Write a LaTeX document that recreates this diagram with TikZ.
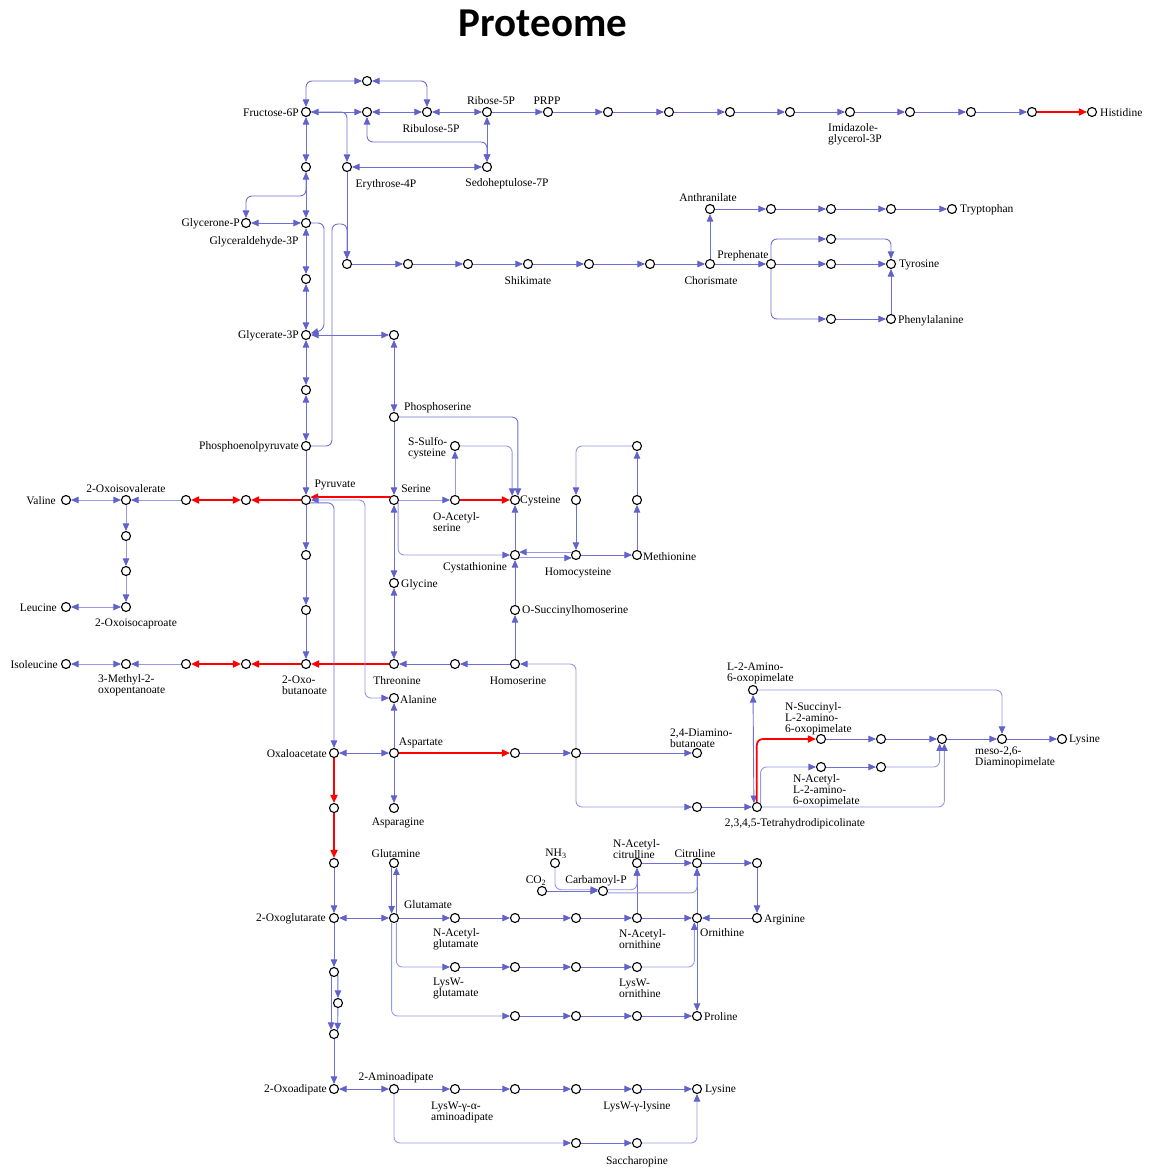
\documentclass[tikz,border=0pt]{standalone}
\usepackage{fontspec}
\setmainfont{Liberation Serif}
\newfontfamily\titlefont{Carlito}
\usetikzlibrary{arrows.meta}
\definecolor{linec}{RGB}{112,112,212}
\definecolor{lightc}{RGB}{152,152,228}
\definecolor{tipc}{RGB}{98,98,205}
\newcommand{\lf}{\fontsize{11.5}{11}\selectfont}
\begin{document}
\begin{tikzpicture}[x=1pt,y=-1pt,
 met/.style={circle,draw=black,fill=white,line width=1.1pt,minimum size=9pt,inner sep=0pt},
 lab/.style={font=\lf,inner sep=0pt,align=left,yshift=-1pt},
 ed/.style={draw=linec,line width=0.9pt,rounded corners=6pt,>={Triangle[length=7.5pt,width=6.5pt,color=tipc]}},
 edl/.style={draw=lightc,line width=0.9pt,rounded corners=6pt,>={Triangle[length=7.5pt,width=6.5pt,color=tipc]}},
 rd/.style={draw=red,line width=1.7pt,>={Triangle[length=8pt,width=7pt]}}]
\fill[white] (0,0) rectangle (1148,1169);
\useasboundingbox (0,0) rectangle (1148,1169);
\node[anchor=base] (title) at (543,37) {\titlefont\bfseries\fontsize{41}{41}\selectfont Proteome};
% ---------- metabolite nodes ----------
\foreach \n/\x/\y in {F6P/306/112,T1/367/81,X367/367/112,Ru5P/427/112,R5P/487/112,PRPP/548/112,
 H1/608/112,H2/669/112,H3/730/112,H4/790/112,IGP/850/112,H6/910/112,H7/971/112,H8/1032/112,His/1092/112,
 X306a/306/167,E4P/347/167,S7P/487/167,GlyP/246/223,GA3P/306/223,X306b/306/279,G3P/306/335,X394/394/335,
 X306c/306/390,PEP/306/446,
 S1/347/264,S2/408/264,S3/468/264,Shik/528/264,S5/589/264,S6/650/264,Chor/710/264,Preph/771/264,T2/831/264,Tyr/891/264,
 Anth/710/209,A2/771/209,A3/831/209,A4/891/209,Trp/952/209,U1/831/239,P1/831/319,Phe/891/319,
 PSer/394/417,SSC/455/446,Pyr/306/500,Ser/394/500,OAS/455/500,Cys/515/500,M1/576/500,M2/637/500,M3/637/446,
 Cysta/515/555,Hcy/576/555,Met/637/555,Gly/394/583,OSH/515/610,Hse/515/664,HH/455/664,Thr/394/664,
 OxoBut/306/664,Ala/394/698,Y1/306/555,Y2/306/610,
 V1/246/500,V2/186/500,KIV/126/500,Val/66/500,L1/126/536,L2/126/571,KIC/126/607,Leu/66/607,
 I1/246/664,I2/186/664,KMV/126/664,Ile/66/664,
 OAA/334/753,Asp/394/753,Asn/394/808,D1/515/753,D2/576/753,DAB/697/753,D3/697/807,THDP/757/807,
 L2A/753/690,NS/821/739,NS2/881/739,K3/942/739,DAP/1002/739,LysA/1062/739,NA/821/767,NA2/881/767,
 NxA/334/808,NxB/334/863,Gln/394/863,OG/334/918,Glu/394/918,NAG/455/918,G2/515/918,G3/576/918,NAO/637/918,
 Orn/697/918,Arg/757/918,NH3/555/863,NAC/637/863,Cit/697/863,C3/757/863,CO2/542/891,CP/603/891,
 LW1/455/967,LW2/515/967,LW3/576/967,LW4/637/967,PR1/515/1016,PR2/576/1016,PR3/637/1016,Pro/697/1016,
 O1/334/972,O2/338/1003,O3/334/1034,OA/334/1089,AA/394/1089,B1/455/1089,B2/515/1089,B3/576/1089,B4/637/1089,
 LysB/697/1089,SA1/576/1143,Sac/637/1143}
 \node[met] (\n) at (\x,\y) {};
% ---------- labels ----------
\node[lab,anchor=east] (tF6P) at (299,112) {Fructose-6P};
\node[lab] (tRu5P) at (431,128) {Ribulose-5P};
\node[lab] (tR5P) at (491,100) {Ribose-5P};
\node[lab] (tPRPP) at (547,100) {PRPP};
\node[lab,anchor=west] (tIGP) at (828,133) {Imidazole-\\glycerol-3P};
\node[lab,anchor=west] (tHis) at (1100,112) {Histidine};
\node[lab] (tE4P) at (386,184) {Erythrose-4P};
\node[lab] (tS7P) at (507,183) {Sedoheptulose-7P};
\node[lab,anchor=east] (tGlyP) at (240,223) {Glycerone-P};
\node[lab] (tGA3P) at (254,241) {Glyceraldehyde-3P};
\node[lab,anchor=east] (tG3P) at (299,335) {Glycerate-3P};
\node[lab,anchor=east] (tPEP) at (299,446) {Phosphoenolpyruvate};
\node[lab] (tShik) at (528,280) {Shikimate};
\node[lab] (tChor) at (711,280) {Chorismate};
\node[lab] (tPreph) at (743,255) {Prephenate};
\node[lab] (tAnth) at (708,197) {Anthranilate};
\node[lab,anchor=west] (tTrp) at (960,209) {Tryptophan};
\node[lab,anchor=west] (tTyr) at (899,264) {Tyrosine};
\node[lab,anchor=west] (tPhe) at (898,320) {Phenylalanine};
\node[lab,anchor=west] (tPSer) at (404,407) {Phosphoserine};
\node[lab,anchor=west] (tSSC) at (408,447) {S-Sulfo-\\cysteine};
\node[lab] (tPyr) at (335,484) {Pyruvate};
\node[lab] (tSer) at (416,488) {Serine};
\node[lab,anchor=west] (tOAS) at (433,521) {O-Acetyl-\\serine};
\node[lab,anchor=west] (tCys) at (520,500) {Cysteine};
\node[lab] (tCysta) at (475,567) {Cystathionine};
\node[lab] (tHcy) at (578,572) {Homocysteine};
\node[lab,anchor=west] (tMet) at (643,556) {Methionine};
\node[lab,anchor=west] (tGly) at (401,584) {Glycine};
\node[lab,anchor=west] (tOSH) at (522,610) {O-Succinylhomoserine};
\node[lab] (tKIV) at (126,488) {2-Oxoisovalerate};
\node[lab,anchor=east] (tVal) at (56,500) {Valine};
\node[lab,anchor=east] (tLeu) at (57,607) {Leucine};
\node[lab] (tKIC) at (136,623) {2-Oxoisocaproate};
\node[lab,anchor=east] (tIle) at (58,664) {Isoleucine};
\node[lab,anchor=west] (tKMV) at (98,684) {3-Methyl-2-\\oxopentanoate};
\node[lab,anchor=west] (tOxoBut) at (282,684) {2-Oxo-\\butanoate};
\node[lab] (tThr) at (397,680) {Threonine};
\node[lab] (tHse) at (518,680) {Homoserine};
\node[lab,anchor=west] (tAla) at (400,699) {Alanine};
\node[lab,anchor=east] (tOAA) at (327,753) {Oxaloacetate};
\node[lab] (tAsp) at (421,742) {Aspartate};
\node[lab] (tAsn) at (398,822) {Asparagine};
\node[lab,anchor=west] (tDAB) at (670,737) {2,4-Diamino-\\butanoate};
\node[lab,anchor=west] (tL2A) at (727,672) {L-2-Amino-\\6-oxopimelate};
\node[lab,anchor=west] (tNS) at (785,718) {N-Succinyl-\\L-2-amino-\\6-oxopimelate};
\node[lab,anchor=west] (tNA) at (793,790) {N-Acetyl-\\L-2-amino-\\6-oxopimelate};
\node[lab] (tTHDP) at (795,823) {2,3,4,5-Tetrahydrodipicolinate};
\node[lab,anchor=west] (tDAP) at (975,756) {meso-2,6-\\Diaminopimelate};
\node[lab,anchor=west] (tLysA) at (1069,739) {Lysine};
\node[lab] (tGln) at (396,853) {Glutamine};
\node[lab] (tNH3) at (556,853) {NH\textsubscript{3}};
\node[lab,anchor=west] (tNAC) at (613,848) {N-Acetyl-\\citrulline};
\node[lab] (tCit) at (695,853) {Citruline};
\node[lab] (tCO2) at (536,880) {CO\textsubscript{2}};
\node[lab] (tCP) at (596,880) {Carbamoyl-P};
\node[lab] (tGlu) at (428,904) {Glutamate};
\node[lab,anchor=east] (tOG) at (326,918) {2-Oxoglutarate};
\node[lab,anchor=west] (tNAG) at (433,938) {N-Acetyl-\\glutamate};
\node[lab,anchor=west] (tNAO) at (619,938) {N-Acetyl-\\ornithine};
\node[lab,anchor=west] (tOrn) at (700,932) {Ornithine};
\node[lab,anchor=west] (tArg) at (764,919) {Arginine};
\node[lab,anchor=west] (tLW1) at (433,987) {LysW-\\glutamate};
\node[lab,anchor=west] (tLW4) at (619,987) {LysW-\\ornithine};
\node[lab,anchor=west] (tPro) at (704,1016) {Proline};
\node[lab,anchor=east] (tOA) at (327,1089) {2-Oxoadipate};
\node[lab] (tAA) at (396,1077) {2-Aminoadipate};
\node[lab,anchor=west] (tB1) at (431,1111) {LysW-γ-α-\\aminoadipate};
\node[lab] (tB4) at (637,1106) {LysW-γ-lysine};
\node[lab,anchor=west] (tLysB) at (705,1089) {Lysine};
\node[lab] (tSac) at (637,1161) {Saccharopine};
% ---------- connectors ----------
% pentose phosphate / glycolysis
\draw[ed,<->] (F6P) |- (T1);
\draw[ed,<->] (T1) -| (Ru5P);
\draw[ed,<->] (F6P) -- (X367);
\draw[ed,<->] (X367) -- (Ru5P);
\draw[ed,<->] (Ru5P) -- (R5P);
\draw[ed,->] (R5P) -- (PRPP);
\foreach \a/\b in {PRPP/H1,H1/H2,H2/H3,H3/H4,H4/IGP,IGP/H6,H6/H7,H7/H8}
 \draw[ed,->] (\a) -- (\b);
\draw[rd,->] (H8) -- (His);
\draw[ed,->] (F6P) -| (E4P);
\draw[ed,->] (E4P) -- (S1);
\draw[ed,<->] (E4P) -- (S7P);
\draw[ed,<->] (X367) -- (367,142) -- (487,142) -- (S7P);
\draw[ed,<->] (R5P) -- (S7P);
\draw[ed,<->] (F6P) -- (X306a);
\draw[ed,<->] (X306a) -- (GA3P);
\draw[ed,->] (X306a) -- (306,196) -- (246,196) -- (GlyP);
\draw[ed,<->] (GlyP) -- (GA3P);
\draw[ed,<->] (GA3P) -- (X306b);
\draw[ed,<->] (X306b) -- (G3P);
\draw[ed,->] (GA3P) -- (324,223) -- (324,330) -- (G3P.20);
\draw[ed,<->] (G3P) -- (X394);
\draw[ed,<->] (X394) -- (PSer);
\draw[ed,<->] (G3P) -- (X306c);
\draw[ed,<->] (X306c) -- (PEP);
\draw[ed,->] (PEP) -- (Pyr);
\draw[ed,->] (PEP) -- (332,446) -- (332,224) -- (347,224) -- (S1);
% aromatic
\foreach \a/\b in {S1/S2,S2/S3,S3/Shik,Shik/S5,S5/S6,S6/Chor,Chor/Preph,Preph/T2,T2/Tyr,Chor/Anth,Anth/A2,A2/A3,A3/A4,A4/Trp,P1/Phe,Phe/Tyr}
 \draw[ed,->] (\a) -- (\b);
\draw[ed,->] (Preph) |- (U1);
\draw[ed,->] (U1) -| (Tyr);
\draw[ed,->] (Preph) |- (P1);
% serine / cysteine / methionine
\draw[ed,->] (PSer) -- (Ser);
\draw[ed,->] (PSer) -| (Cys.55);
\draw[edl,->] (SSC) -| (Cys.125);
\draw[edl,->] (Ser) -- (OAS);
\draw[edl,->] (OAS) -- (SSC);
\draw[rd,->] (OAS) -- (Cys);
\draw[rd,->] (Ser.145) -- (Pyr.35);
\draw[edl,->] (Ser.-35) |- (Cysta);
\draw[ed,<->] (Ser) -- (Gly);
\draw[ed,<->] (Gly) -- (Thr);
\draw[ed,->] (Cysta) -- (Cys);
\draw[ed,->] (OSH) -- (Cysta);
\draw[ed,->] (Hse) -- (OSH);
\draw[edl,->] (Hcy.145) -- (Cysta.35);
\draw[edl,->] (Cysta.-35) -- (Hcy.-145);
\draw[ed,->] (Hcy) -- (Met);
\draw[ed,->] (Met) -- (M2);
\draw[ed,->] (M2) -- (M3);
\draw[edl,->] (M3) -| (M1);
\draw[ed,->] (M1) -- (Hcy);
% branched chain
\draw[rd,->] (Pyr) -- (V1);
\draw[rd,<->] (V2) -- (V1);
\draw[edl,->] (V2) -- (KIV);
\draw[edl,<->] (KIV) -- (Val);
\draw[edl,->] (KIV) -- (L1);
\draw[edl,->] (L1) -- (L2);
\draw[edl,->] (L2) -- (KIC);
\draw[edl,<->] (KIC) -- (Leu);
\draw[ed,->] (Pyr) -- (Y1);
\draw[ed,->] (Y1) -- (Y2);
\draw[ed,->] (Y2) -- (OxoBut);
\draw[rd,->] (Thr) -- (OxoBut);
\draw[rd,->] (OxoBut) -- (I1);
\draw[rd,<->] (I2) -- (I1);
\draw[edl,->] (I2) -- (KMV);
\draw[edl,<->] (KMV) -- (Ile);
\draw[edl,<->] (Pyr) -- (365,500) -- (365,698) -- (Ala);
\draw[ed,->] (Pyr.-35) -| (OAA);
% aspartate family
\draw[ed,->] (Hse) -- (HH);
\draw[ed,->] (HH) -- (Thr);
\draw[edl,->] (D2) |- (Hse);
\draw[ed,<->] (OAA) -- (Asp);
\draw[ed,->] (Asp) -- (Ala);
\draw[ed,->] (Asp) -- (Asn);
\draw[rd,->] (Asp) -- (D1);
\draw[ed,->] (D1) -- (D2);
\draw[ed,->] (D2) -- (DAB);
\draw[edl,->] (D2) |- (D3);
\draw[ed,->] (D3) -- (THDP);
\draw[ed,<->] (L2A) -- (THDP.128);
\draw[rd,->,rounded corners=6pt] (THDP.92) |- (NS);
\draw[edl,->] (THDP.45) |- (NA);
\draw[edl,->] (THDP) -| (K3.-62);
\draw[edl,->] (NA2) -| (K3.-118);
\draw[ed,->] (NS) -- (NS2);
\draw[ed,->] (NS2) -- (K3);
\draw[ed,->] (NA) -- (NA2);
\draw[ed,->] (K3) -- (DAP);
\draw[ed,->] (DAP) -- (LysA);
\draw[edl,->] (L2A) -| (DAP);
% glutamate family
\draw[rd,->] (OAA) -- (NxA);
\draw[rd,->] (NxA) -- (NxB);
\draw[ed,->] (NxB) -- (OG);
\draw[ed,<->] (OG) -- (Glu);
\draw[ed,->] (Gln.-118) -- (Glu.118);
\draw[ed,->] (Glu.62) -- (Gln.-62);
\foreach \a/\b in {Glu/NAG,NAG/G2,G2/G3,G3/NAO,NAO/Orn,NAO/NAC,NAC/Cit,Cit/C3,C3/Arg,Arg/Orn,Orn/Cit,Orn/Pro,CO2/CP,
 LW1/LW2,LW2/LW3,LW3/LW4,PR1/PR2,PR2/PR3,PR3/Pro}
 \draw[ed,->] (\a) -- (\b);
\draw[edl,->] (NH3) |- (CP.165);
\draw[edl,->] (CP.15) -| (NAC);
\draw[edl,->] (CP.-22) -| (Cit);
\draw[edl,->] (Glu.-62) |- (LW1);
\draw[edl,->] (LW4) -| (Orn.-122);
\draw[edl,->] (Glu.-118) |- (PR1);
% lysine via aminoadipate
\draw[ed,->] (OG) -- (O1);
\draw[ed,->] (O1.-40) -- (O2);
\draw[ed,->] (O2) -- (O3.45);
\draw[ed,->] (O1.-125) -- (O3.125);
\draw[ed,->] (O3) -- (OA);
\draw[ed,<->] (OA) -- (AA);
\foreach \a/\b in {AA/B1,B1/B2,B2/B3,B3/B4,B4/LysB,SA1/Sac}
 \draw[ed,->] (\a) -- (\b);
\draw[edl,->] (AA) |- (SA1);
\draw[edl,->] (Sac) -| (LysB);
\end{tikzpicture}
\end{document}
